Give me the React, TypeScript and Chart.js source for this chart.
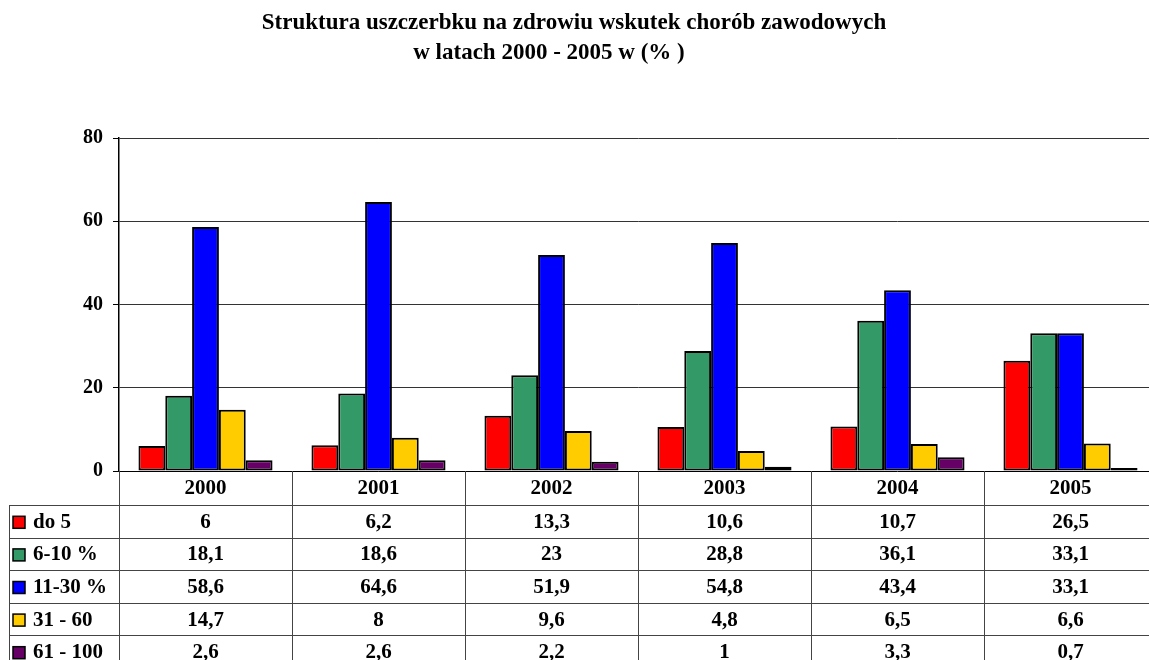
import React, { useEffect, useRef } from "react";
import { Chart, registerables } from "chart.js";

Chart.register(...registerables);

const years = ["2000", "2001", "2002", "2003", "2004", "2005"];
const seriesNames = ["do 5", "6-10 %", "11-30 %", "31 - 60", "61 - 100"];
const do5 = [6, 6.2, 13.3, 10.6, 10.7, 26.5];
const s6to10 = [18.1, 18.6, 23, 28.8, 36.1, 33.1];
const s11to30 = [58.6, 64.6, 51.9, 54.8, 43.4, 33.1];
const s31to60 = [14.7, 8, 9.6, 4.8, 6.5, 6.6];
const s61to100 = [2.6, 2.6, 2.2, 1, 3.3, 0.7];
const yTicks = [0, 20, 40, 60, 80];
const titleLines = [
  "Struktura uszczerbku na zdrowiu wskutek chorób zawodowych",
  "w latach 2000 - 2005 w (% )",
];

const colors = ["#FF0000", "#339966", "#0000FF", "#FFCC00", "#660066"];
const allSeries = [do5, s6to10, s11to30, s31to60, s61to100];
const SERIF = "'Liberation Serif', 'Times New Roman', serif";

const fmt = (v: number) => String(v).replace(".", ",");

const tablePlugin = {
  id: "dataTable",
  afterDraw(chart: any) {
    const ctx = chart.ctx as CanvasRenderingContext2D;
    const xs = chart.scales.x;
    const area = chart.chartArea;
    const n = years.length;
    const colW = (xs.right - xs.left) / n;
    const top = area.bottom;
    const headerH = 34;
    const rowH = 32.6;
    const tableLeft = 9;
    const bottom = chart.height;
    ctx.save();
    // title
    ctx.fillStyle = "#000";
    ctx.textAlign = "center";
    ctx.textBaseline = "middle";
    ctx.font = `bold 23px ${SERIF}`;
    ctx.fillText(titleLines[0], 574, 23);
    ctx.fillText(titleLines[1], 549, 53);

    ctx.strokeStyle = "#444";
    ctx.lineWidth = 1;
    // vertical lines
    for (let i = 0; i <= n; i++) {
      const x = Math.round(xs.left + i * colW) + 0.5;
      ctx.beginPath();
      ctx.moveTo(x, top);
      ctx.lineTo(x, bottom);
      ctx.stroke();
    }
    // left border
    ctx.beginPath();
    ctx.moveTo(tableLeft + 0.5, top + headerH);
    ctx.lineTo(tableLeft + 0.5, bottom);
    ctx.stroke();
    // horizontal lines
    for (let r = 0; r <= seriesNames.length; r++) {
      const y = Math.round(top + headerH + r * rowH) + 0.5;
      ctx.beginPath();
      ctx.moveTo(tableLeft, y);
      ctx.lineTo(xs.right, y);
      ctx.stroke();
    }
    // header years
    ctx.font = `bold 21px ${SERIF}`;
    ctx.fillStyle = "#000";
    ctx.textAlign = "center";
    ctx.textBaseline = "middle";
    for (let i = 0; i < n; i++) {
      ctx.fillText(years[i], xs.getPixelForValue(i), top + headerH / 2 + 1);
    }
    // rows
    for (let r = 0; r < seriesNames.length; r++) {
      const cy = top + headerH + r * rowH + rowH / 2 + 1;
      // legend marker
      ctx.fillStyle = colors[r];
      ctx.fillRect(13, cy - 6, 12, 12);
      ctx.strokeStyle = "#000";
      ctx.lineWidth = 1.5;
      ctx.strokeRect(13, cy - 6, 12, 12);
      ctx.fillStyle = "#000";
      ctx.textAlign = "left";
      ctx.fillText(seriesNames[r], 33, cy);
      ctx.textAlign = "center";
      for (let i = 0; i < n; i++) {
        ctx.fillText(fmt(allSeries[r][i]), xs.getPixelForValue(i), cy);
      }
    }
    ctx.restore();
  },
};

export default function App() {
  const ref = useRef<HTMLCanvasElement | null>(null);
  useEffect(() => {
    if (!ref.current) return;
    const chart = new Chart(ref.current, {
      type: "bar",
      data: {
        labels: years,
        datasets: seriesNames.map((name, i) => ({
          label: name,
          data: allSeries[i],
          backgroundColor: colors[i],
          borderColor: "#000",
          borderWidth: 2,
          borderSkipped: false,
          barPercentage: 1,
          categoryPercentage: 0.775,
        })),
      },
      options: {
        responsive: false,
        animation: false,
        events: [],
        layout: { padding: { top: 138, bottom: 189, left: 0, right: 13 } },
        plugins: {
          legend: { display: false },
          title: { display: false },
          tooltip: { enabled: false },
        },
        scales: {
          x: {
            display: false,
          },
          y: {
            min: 0,
            max: 80,
            afterFit: (s: any) => {
              s.width = 119;
            },
            afterBuildTicks: (s: any) => {
              s.ticks = yTicks.map((v) => ({ value: v }));
            },
            border: { display: true, color: "#000", width: 1.5 },
            grid: {
              color: (c: any) => (c.tick && c.tick.value === 0 ? "#000" : "#333"),
              tickLength: 6,
              tickColor: "#000",
              drawTicks: true,
            },
            ticks: {
              padding: 10,
              color: "#000",
              font: { family: SERIF, size: 20, weight: "bold" },
            },
          },
        },
      },
      plugins: [tablePlugin],
    });
    return () => chart.destroy();
  }, []);
  return (
    <div
      style={{
        position: "fixed",
        left: 0,
        top: 0,
        width: 1149,
        height: 660,
        overflow: "hidden",
        background: "#fff",
      }}
    >
      <canvas ref={ref} width={1170} height={660} style={{ display: "block" }} />
    </div>
  );
}
